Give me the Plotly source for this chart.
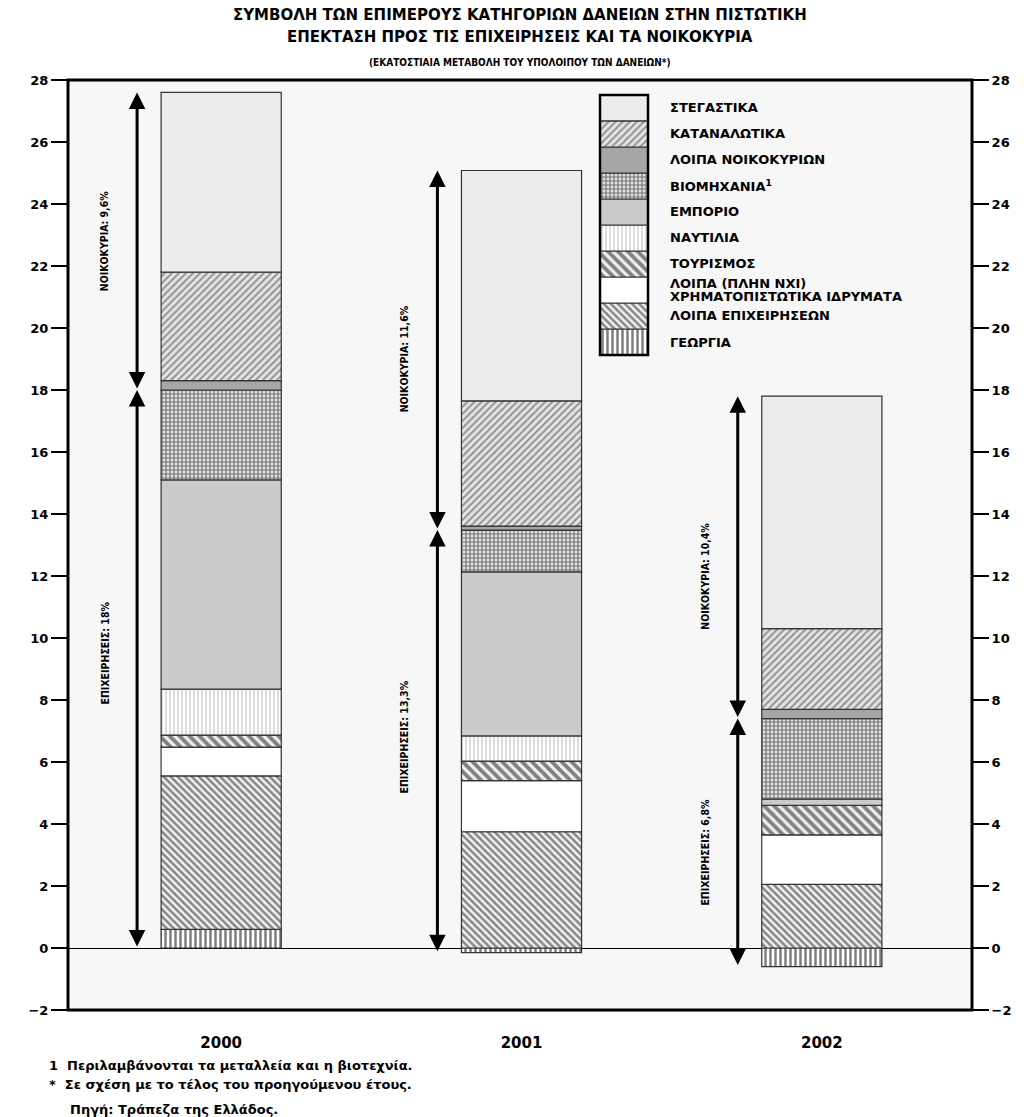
import plotly.graph_objects as go

# Years and stacked contributions (percentage points) of each loan category
years = ["2000", "2001", "2002"]

georgia = [0.6, -0.15, -0.6]          # ΓΕΩΡΓΙΑ
loipa_epix = [4.95, 3.75, 2.05]       # ΛΟΙΠΑ ΕΠΙΧΕΙΡΗΣΕΩΝ
loipa_xi = [0.93, 1.65, 1.6]          # ΛΟΙΠΑ (ΠΛΗΝ ΝΧΙ) ΧΡΗΜ. ΙΔΡΥΜΑΤΑ
tourismos = [0.39, 0.63, 0.95]        # ΤΟΥΡΙΣΜΟΣ
naftilia = [1.48, 0.81, 0.0]          # ΝΑΥΤΙΛΙΑ
emporio = [6.75, 5.29, 0.2]           # ΕΜΠΟΡΙΟ
viomixania = [2.9, 1.35, 2.6]         # ΒΙΟΜΗΧΑΝΙΑ
loipa_noik = [0.3, 0.13, 0.3]         # ΛΟΙΠΑ ΝΟΙΚΟΚΥΡΙΩΝ
katanalotika = [3.5, 4.04, 2.6]       # ΚΑΤΑΝΑΛΩΤΙΚΑ
stegastika = [5.8, 7.43, 7.5]         # ΣΤΕΓΑΣΤΙΚΑ

household_labels = ["ΝΟΙΚΟΚΥΡΙΑ: 9,6%", "ΝΟΙΚΟΚΥΡΙΑ: 11,6%", "ΝΟΙΚΟΚΥΡΙΑ: 10,4%"]
business_labels = ["ΕΠΙΧΕΙΡΗΣΕΙΣ: 18%", "ΕΠΙΧΕΙΡΗΣΕΙΣ: 13,3%", "ΕΠΙΧΕΙΡΗΣΕΙΣ: 6,8%"]
household_label_y = [22.8, 19.0, 12.0]
business_label_y = [9.5, 6.8, 3.1]

y_ticks = list(range(-2, 29, 2))

BOLD = "DejaVu Sans"

# name, values, fill colour, pattern (shape, fg, size, solidity) stacked from the bottom
series = [
    ("ΓΕΩΡΓΙΑ", georgia, "white", ("|", "#000000", 5, 0.5)),
    ("ΛΟΙΠΑ ΕΠΙΧΕΙΡΗΣΕΩΝ", loipa_epix, "#f2f2f2", ("\\", "#1a1a1a", 5, 0.5)),
    ("ΛΟΙΠΑ (ΠΛΗΝ ΝΧΙ)|ΧΡΗΜΑΤΟΠΙΣΤΩΤΙΚΑ ΙΔΡΥΜΑΤΑ", loipa_xi, "white", None),
    ("ΤΟΥΡΙΣΜΟΣ", tourismos, "#f0f0f0", ("\\", "#111111", 7, 0.55)),
    ("ΝΑΥΤΙΛΙΑ", naftilia, "white", ("|", "#8a8a8a", 4, 0.3)),
    ("ΕΜΠΟΡΙΟ", emporio, "#cbcbcb", None),
    ("ΒΙΟΜΗΧΑΝΙΑ<sup>1</sup>", viomixania, "#e2e2e2", ("+", "#000000", 4, 0.5)),
    ("ΛΟΙΠΑ ΝΟΙΚΟΚΥΡΙΩΝ", loipa_noik, "#a6a6a6", None),
    ("ΚΑΤΑΝΑΛΩΤΙΚΑ", katanalotika, "#e4e4e4", ("/", "#404040", 5, 0.4)),
    ("ΣΤΕΓΑΣΤΙΚΑ", stegastika, "#ececec", None),
]


def marker_for(fill, pat):
    m = dict(color=fill, line=dict(color="#333333", width=1.2))
    if pat:
        shape, fg, size, sol = pat
        m["pattern"] = dict(shape=shape, fgcolor=fg, bgcolor=fill, size=size,
                            solidity=sol, fillmode="overlay")
    return m


fig = go.Figure()
xs = [0, 1, 2]
for name, vals, fill, pat in series:
    fig.add_trace(go.Bar(x=xs, y=vals, width=0.4, name=name.replace("|", " "),
                         showlegend=False, marker=marker_for(fill, pat),
                         xaxis="x", yaxis="y"))

# Column legend drawn as one stacked bar of equal blocks
for name, vals, fill, pat in series:
    fig.add_trace(go.Bar(x=[0], y=[1], width=1, showlegend=False,
                         marker=marker_for(fill, pat), xaxis="x2", yaxis="y2"))

legend_font = dict(family=BOLD, size=13, color="black", weight="bold")
annotations = []
for i, (name, vals, fill, pat) in enumerate(series[::-1]):
    lines = name.split("|")
    # two-line entries are set tightly within their block
    offsets = [0.0] if len(lines) == 1 else [0.26, -0.26]
    for line, off in zip(lines, offsets):
        annotations.append(dict(xref="paper", yref="y2", x=0.664, y=9.5 - i + off,
                                text=line, showarrow=False, xanchor="left",
                                yanchor="middle", align="left", font=legend_font))

# Arrows spanning the business and household contributions
business_keys = [georgia, loipa_epix, loipa_xi, tourismos, naftilia, emporio, viomixania]
household_keys = [loipa_noik, katanalotika, stegastika]
arrow_dx = -0.28
label_dx = -0.39
for i in range(3):
    pos_b = sum(max(s[i], 0) for s in business_keys)
    neg_b = sum(min(s[i], 0) for s in business_keys)
    top = pos_b + sum(s[i] for s in household_keys)
    for y0, y1 in ((neg_b, pos_b), (pos_b, top)):
        annotations.append(dict(x=i + arrow_dx, y=y1, ax=i + arrow_dx, ay=y0,
                                xref="x", yref="y", axref="x", ayref="y", text="",
                                showarrow=True, arrowhead=2, startarrowhead=2,
                                arrowside="end+start", arrowwidth=3, arrowsize=1.1,
                                startarrowsize=1.1, arrowcolor="black", standoff=0,
                                startstandoff=0))
    for txt, ly in ((household_labels[i], household_label_y[i]),
                    (business_labels[i], business_label_y[i])):
        annotations.append(dict(x=i + label_dx, y=ly, xref="x", yref="y", text=txt,
                                textangle=-90, showarrow=False,
                                font=dict(family="DejaVu Sans Condensed", size=10.5,
                                          color="black", weight="bold")))

# Titles
annotations += [
    dict(xref="paper", yref="paper", x=0.5, y=1, yshift=65, xanchor="center", yanchor="middle",
         text="ΣΥΜΒΟΛΗ ΤΩΝ ΕΠΙΜΕΡΟΥΣ ΚΑΤΗΓΟΡΙΩΝ ΔΑΝΕΙΩΝ ΣΤΗΝ ΠΙΣΤΩΤΙΚΗ",
         showarrow=False, font=dict(family=BOLD, size=15, color="black", weight="bold")),
    dict(xref="paper", yref="paper", x=0.5, y=1, yshift=43, xanchor="center", yanchor="middle",
         text="ΕΠΕΚΤΑΣΗ ΠΡΟΣ ΤΙΣ ΕΠΙΧΕΙΡΗΣΕΙΣ ΚΑΙ ΤΑ ΝΟΙΚΟΚΥΡΙΑ",
         showarrow=False, font=dict(family=BOLD, size=15, color="black", weight="bold")),
    dict(xref="paper", yref="paper", x=0.5, y=1, yshift=18, xanchor="center", yanchor="middle",
         text="(ΕΚΑΤΟΣΤΙΑΙΑ ΜΕΤΑΒΟΛΗ ΤΟΥ ΥΠΟΛΟΙΠΟΥ ΤΩΝ ΔΑΝΕΙΩΝ*)",
         showarrow=False, font=dict(family="DejaVu Sans Condensed", size=10, color="black",
                                    weight="bold")),
]

# Footnotes
foot_font = dict(family=BOLD, size=13, color="black", weight="bold")
annotations += [
    dict(xref="paper", yref="paper", x=-0.0232, y=0, yshift=-55, xanchor="left",
         yanchor="middle", showarrow=False, font=foot_font,
         text="1  Περιλαμβάνονται τα μεταλλεία και η βιοτεχνία."),
    dict(xref="paper", yref="paper", x=-0.0232, y=0, yshift=-74, xanchor="left",
         yanchor="middle", showarrow=False, font=foot_font,
         text="*  Σε σχέση με το τέλος του προηγούμενου έτους."),
    dict(xref="paper", yref="paper", x=0.0, y=0, yshift=-99, xanchor="left",
         yanchor="middle", showarrow=False, font=foot_font,
         text="Πηγή: Τράπεζα της Ελλάδος."),
]

tickfont = dict(family=BOLD, size=13, color="black", weight="bold")
fig.update_layout(
    width=1034, height=1117,
    margin=dict(l=68, r=62, t=80, b=107),
    paper_bgcolor="white", plot_bgcolor="#f7f7f7",
    barmode="relative",
    xaxis=dict(range=[-0.51, 2.5], tickvals=xs, ticktext=years, showgrid=False,
               zeroline=False, showline=False, ticks="", fixedrange=True,
               ticklabelstandoff=22,
               tickfont=dict(family=BOLD, size=15, color="black", weight="bold")),
    yaxis=dict(range=[-2, 28], tickvals=y_ticks, showgrid=False, zeroline=True,
               zerolinecolor="black", zerolinewidth=1, ticks="outside", ticklen=16,
               tickwidth=2, tickcolor="black", showline=False, tickfont=tickfont),
    yaxis3=dict(range=[-2, 28], tickvals=y_ticks, overlaying="y", side="right",
                anchor="x", showgrid=False, zeroline=False, ticks="outside",
                ticklen=16, tickwidth=2, tickcolor="black", tickfont=tickfont),
    xaxis2=dict(domain=[0.5885, 0.6416], range=[-0.5, 0.5], visible=False,
                anchor="y2", fixedrange=True),
    yaxis2=dict(domain=[0.7043, 0.9839], range=[0, 10], visible=False,
                anchor="x2", fixedrange=True),
    annotations=annotations,
    shapes=[
        dict(type="rect", xref="paper", yref="paper", x0=0, x1=1, y0=0, y1=1,
             line=dict(color="black", width=3)),
        dict(type="rect", xref="paper", yref="paper", x0=0.5885, x1=0.6416,
             y0=0.7043, y1=0.9839, line=dict(color="black", width=2.5)),
    ],
)

# Invisible trace so the right-hand axis is drawn
fig.add_trace(go.Scatter(x=[0], y=[0], yaxis="y3", mode="markers",
                         marker=dict(opacity=0), showlegend=False, hoverinfo="skip"))

fig.write_html("out.html")
